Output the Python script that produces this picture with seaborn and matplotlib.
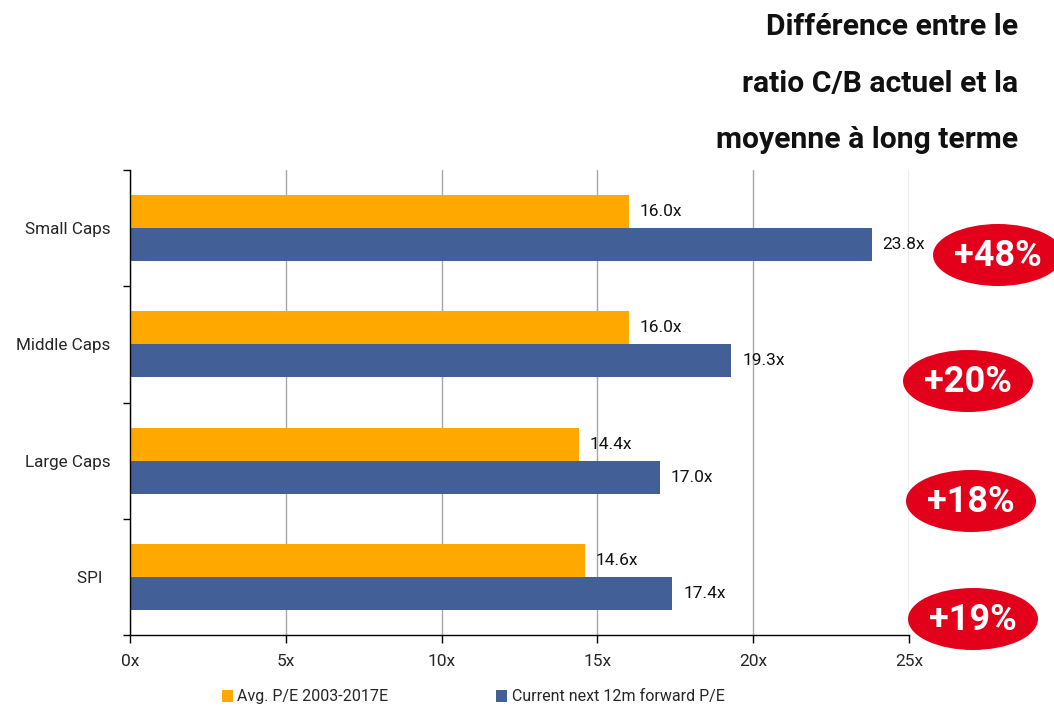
import matplotlib
matplotlib.use("Agg")
import matplotlib.pyplot as plt
from matplotlib.patches import Ellipse, Patch
import seaborn as sns
import pandas as pd

categories = ["Small Caps", "Middle Caps", "Large Caps", "SPI"]
avg_pe = [16.0, 16.0, 14.4, 14.6]
current_pe = [23.8, 19.3, 17.0, 17.4]
premium_pct = [48, 20, 18, 19]
series_names = ["Avg. P/E 2003-2017E", "Current next 12m forward P/E"]
x_ticks = [0, 5, 10, 15, 20, 25]
title_lines = ["Différence entre le", "ratio C/B actuel et la", "moyenne à long terme"]

ORANGE = "#FFA800"
BLUE = "#435F97"
RED = "#E2001A"

sns.set_theme(style="white")
plt.rcParams["font.family"] = ["Roboto", "DejaVu Sans"]

df = pd.DataFrame({
    "cat": categories * 2,
    "val": avg_pe + current_pe,
    "series": [series_names[0]] * 4 + [series_names[1]] * 4,
})

W, H = 1054, 707
fig = plt.figure(figsize=(10.54, 7.07), dpi=100)
ax = fig.add_axes([130 / W, 1 - 635 / H, 779 / W, 465 / H])

sns.barplot(data=df, x="val", y="cat", hue="series", order=categories,
            hue_order=series_names, palette=[ORANGE, BLUE], width=0.567,
            orient="h", ax=ax, saturation=1, legend=False, linewidth=0)

for c in ax.containers:
    ax.bar_label(c, labels=[f"{v:.1f}x" for v in c.datavalues], padding=8,
                 fontsize=12.5, color="#111111")

ax.set_xlim(0, 25)
ax.set_ylim(3.5, -0.5)
ax.set_xticks(x_ticks)
ax.set_xticklabels([f"{t}x" for t in x_ticks], fontsize=12.5)
ax.set_yticks(range(len(categories)))
ax.set_yticklabels([c if c != "SPI" else "SPI  " for c in categories], fontsize=12.3)
ax.set_yticks([-0.5, 0.5, 1.5, 2.5, 3.5], minor=True)
ax.tick_params(axis="y", which="major", left=True, length=0, pad=14)
ax.tick_params(axis="y", which="minor", left=True, length=5, width=1, color="black",
               direction="out")
ax.tick_params(axis="x", which="major", bottom=True, length=6, width=1, color="black",
               direction="out", pad=8)
ax.set_xlabel("")
ax.set_ylabel("")

ax.grid(axis="x", color="#A6A6A6", linewidth=1)
ax.set_axisbelow(True)
for s in ["top", "right"]:
    ax.spines[s].set_visible(False)
for s in ["left", "bottom"]:
    ax.spines[s].set_color("black")
    ax.spines[s].set_linewidth(1)

# premium badges
badge_centers = [(998, 255), (968, 381), (971, 501), (973, 619)]
for (cx, cy), p in zip(badge_centers, premium_pct):
    e = Ellipse((cx / W, 1 - cy / H), 130 / W, 62 / H, transform=fig.transFigure,
                facecolor=RED, edgecolor="none", zorder=5)
    fig.patches.append(e)
    fig.text(cx / W, 1 - (cy + 1) / H, f"+{p}%", color="white", fontsize=26, fontweight="bold",
             ha="center", va="center", zorder=6)

# title
for i, line in enumerate(title_lines):
    fig.text(1018 / W, 1 - (27 + i * 56.5) / H, line, ha="right", va="center",
             fontsize=21.7, fontweight="bold", color="#111111")

handles = [Patch(facecolor=ORANGE, edgecolor="none"), Patch(facecolor=BLUE, edgecolor="none")]
fig.legend(handles, series_names, loc="center", bbox_to_anchor=(473 / W, 1 - 697 / H),
           ncol=2, frameon=False, fontsize=11.5, handlelength=0.7, handleheight=0.7,
           handletextpad=0.3, columnspacing=6.7)

fig.savefig("out.png", dpi=100)
